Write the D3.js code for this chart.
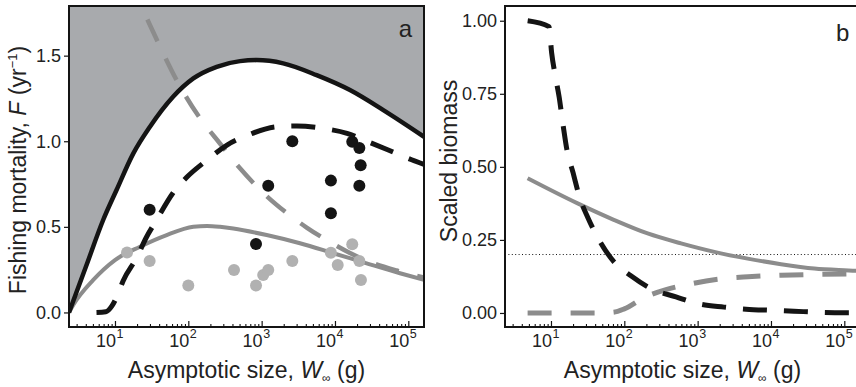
<!DOCTYPE html>
<html>
<head>
<meta charset="utf-8">
<script src="https://cdn.jsdelivr.net/npm/d3@7"></script>
<style>
  html, body { margin: 0; padding: 0; background: #fff; }
  svg { display: block; font-family: "Liberation Sans", Arial, Helvetica, sans-serif; }
</style>
</head>
<body>
<svg id="chart" width="856" height="387"></svg>
<script>
// ---------- Panel a: fishing mortality vs asymptotic size ----------
const boundaryW = [2.36, 4, 6.9, 10.5, 17.8, 30, 62, 117, 244, 507, 855, 1970, 5620, 16000, 45600, 164000];
const boundaryF = [0, 0.265, 0.54, 0.715, 0.929, 1.085, 1.26, 1.367, 1.435, 1.468, 1.474, 1.455, 1.386, 1.299, 1.182, 1.026];

const blackDashW = [5.6, 7.5, 9.1, 11, 12.9, 20, 26.5, 36.2, 61.8, 95.9, 180, 337, 652, 1620, 3030, 6850, 14600, 27300, 53300, 111000, 164000];
const blackDashF = [0, 0.004, 0.038, 0.108, 0.184, 0.324, 0.435, 0.534, 0.698, 0.791, 0.89, 0.978, 1.036, 1.085, 1.089, 1.075, 1.046, 1.0, 0.949, 0.892, 0.865];

const greyDashW = [16, 23.1, 43.4, 69.3, 144, 270, 507, 1170, 2200, 4110, 8110, 16000, 30000, 69300, 164000];
const greyDashF = [1.941, 1.785, 1.532, 1.357, 1.135, 0.987, 0.842, 0.68, 0.581, 0.496, 0.417, 0.347, 0.295, 0.245, 0.204];

const greySolidW = [2.36, 2.7, 5.06, 10, 21.9, 50.7, 117, 180, 270, 411, 1170, 3330, 9480, 27000, 77000, 164000];
const greySolidF = [0, 0.044, 0.19, 0.306, 0.384, 0.452, 0.5, 0.505, 0.5, 0.49, 0.452, 0.404, 0.346, 0.287, 0.229, 0.19];

const blackDotW = [2620, 17200, 21500, 22400, 1230, 8800, 21500, 29.7, 8800, 838];
const blackDotF = [1.0, 0.997, 0.96, 0.86, 0.74, 0.77, 0.74, 0.6, 0.58, 0.4];

const greyDotW = [14.6, 29.7, 100, 420, 838, 1050, 1230, 2620, 8800, 17200, 10900, 21500, 22600];
const greyDotF = [0.35, 0.3, 0.157, 0.248, 0.157, 0.219, 0.248, 0.3, 0.349, 0.398, 0.277, 0.3, 0.19];

const ticksF = [0, 0.5, 1.0, 1.5];

// ---------- Panel b: scaled biomass vs asymptotic size ----------
const bBlackDashW = [4.81, 9.4, 10.2, 11.5, 12.9, 14.6, 16.5, 20, 24.5, 32, 45.2, 72.3, 123, 238, 507, 1040, 2290, 4560, 10600, 20600, 51200, 98900, 169000];
const bBlackDashB = [1.0, 0.98, 0.891, 0.809, 0.74, 0.644, 0.558, 0.48, 0.397, 0.325, 0.25, 0.175, 0.127, 0.082, 0.055, 0.031, 0.02, 0.013, 0.009, 0.006, 0.002, 0.001, 0.001];

const bGreySolidW = [4.8, 23.1, 73.1, 208, 593, 1690, 4810, 13700, 39000, 149000, 169000];
const bGreySolidB = [0.461, 0.375, 0.318, 0.272, 0.238, 0.209, 0.186, 0.167, 0.152, 0.144, 0.143];

const bGreyDashW = [4.8, 45.2, 70, 100, 187, 370, 657, 2080, 4850, 13700, 38500, 169000];
const bGreyDashB = [0, 0, 0.002, 0.014, 0.053, 0.08, 0.095, 0.117, 0.124, 0.129, 0.132, 0.134];

const thresholdB = 0.2;
const ticksB = [0, 0.25, 0.5, 0.75, 1.0];

// ---------- shared axis settings ----------
const sizeDomain = [Math.pow(10, 0.373), Math.pow(10, 5.214)];
const majorExps = [1, 2, 3, 4, 5];

const INK = "#141414";
const GREY_LINE = "#8c8c8c";
const GREY_DOT = "#b1b1b1";
const SHADE = "#a8aaad";

const svg = d3.select("#chart");

function zip(xs, ys) { return xs.map((v, i) => [v, ys[i]]); }

function makePanel(box, yDomain, yTicks, yFormat, name) {
  const x = d3.scaleLog().domain(sizeDomain).range([box.left, box.right]);
  const y = d3.scaleLinear().domain(yDomain).range([box.bottom, box.top]);
  const g = svg.append("g");

  g.append("clipPath").attr("id", "clip-" + name)
    .append("rect")
    .attr("x", box.left).attr("y", box.top)
    .attr("width", box.right - box.left).attr("height", box.bottom - box.top);

  const plot = g.append("g").attr("clip-path", "url(#clip-" + name + ")");

  // y axis (ticks outside)
  const ya = g.append("g").attr("transform", `translate(${box.left},0)`)
    .call(d3.axisLeft(y).tickValues(yTicks).tickSize(5).tickSizeOuter(0).tickPadding(3).tickFormat(yFormat));
  ya.select(".domain").remove();
  ya.selectAll("line").attr("stroke", INK).attr("stroke-width", 1.2);
  ya.selectAll("text").attr("font-size", 18).attr("fill", "#222").attr("font-family", null);

  // x axis: major and minor ticks pointing inward
  const majors = majorExps.map(e => Math.pow(10, e)).filter(v => v >= sizeDomain[0] && v <= sizeDomain[1] * 1.0001);
  const minors = [];
  for (let e = 0; e <= 5; e++) {
    for (let m = 2; m <= 9; m++) {
      const v = m * Math.pow(10, e);
      if (v > sizeDomain[0] && v < sizeDomain[1]) minors.push(v);
    }
  }
  const xMaj = g.append("g").attr("transform", `translate(0,${box.bottom})`)
    .call(d3.axisBottom(x).tickValues(majors).tickSize(-6).tickSizeOuter(0).tickFormat(""));
  xMaj.select(".domain").remove();
  xMaj.selectAll("line").attr("stroke", INK).attr("stroke-width", 1.2);
  const xMin = g.append("g").attr("transform", `translate(0,${box.bottom})`)
    .call(d3.axisBottom(x).tickValues(minors).tickSize(-3).tickSizeOuter(0).tickFormat(""));
  xMin.select(".domain").remove();
  xMin.selectAll("line").attr("stroke", INK).attr("stroke-width", 1.1);

  // power-of-ten labels
  majorExps.forEach(e => {
    const px = x(Math.pow(10, e));
    g.append("text").attr("x", px + 1).attr("y", box.bottom + 20)
      .attr("text-anchor", "end").attr("font-size", 18).attr("fill", "#222").text("10");
    g.append("text").attr("x", px + 1.5).attr("y", box.bottom + 11)
      .attr("text-anchor", "start").attr("font-size", 12.5).attr("fill", "#222").text(String(e));
  });

  // x title
  const xt = g.append("text")
    .attr("x", (box.left + box.right) / 2).attr("y", 378)
    .attr("text-anchor", "middle").attr("font-size", 23).attr("fill", "#222");
  xt.append("tspan").text("Asymptotic size, ");
  xt.append("tspan").attr("font-style", "italic").text("W");
  xt.append("tspan").attr("font-size", 12).attr("dy", 4).text("\u221E");
  xt.append("tspan").attr("dy", -4).text(" (g)");

  return { g, plot, x, y, box };
}

function drawLine(panel, xs, ys, color, width, dash) {
  const line = d3.line().x(d => panel.x(d[0])).y(d => panel.y(d[1])).curve(d3.curveMonotoneX);
  const path = panel.plot.append("path")
    .datum(zip(xs, ys))
    .attr("d", line)
    .attr("fill", "none")
    .attr("stroke", color)
    .attr("stroke-width", width)
    .attr("stroke-linejoin", "round");
  if (dash) path.attr("stroke-dasharray", dash);
  return path;
}

function drawFrame(panel) {
  const b = panel.box;
  panel.g.append("rect")
    .attr("x", b.left).attr("y", b.top)
    .attr("width", b.right - b.left).attr("height", b.bottom - b.top)
    .attr("fill", "none").attr("stroke", INK).attr("stroke-width", 2);
}

// ================= Panel a =================
const pa = makePanel({ left: 69, right: 424, top: 6, bottom: 327 }, [-0.085, 1.79], ticksF, d3.format(".1f"), "a");

// shaded region above the upper bound
pa.plot.append("path")
  .datum(zip(boundaryW, boundaryF))
  .attr("d", d3.area()
    .x(d => pa.x(d[0]))
    .y0(pa.box.top - 5)
    .y1(d => pa.y(d[1]))
    .curve(d3.curveMonotoneX))
  .attr("fill", SHADE);

drawLine(pa, greySolidW, greySolidF, GREY_LINE, 4);
drawLine(pa, greyDashW, greyDashF, GREY_LINE, 4.5, "24,19");
drawLine(pa, boundaryW, boundaryF, INK, 4.5);
drawLine(pa, blackDashW, blackDashF, INK, 5, "24,17");

pa.plot.selectAll("circle.grey").data(zip(greyDotW, greyDotF)).enter()
  .append("circle").attr("class", "grey")
  .attr("cx", d => pa.x(d[0])).attr("cy", d => pa.y(d[1])).attr("r", 6)
  .attr("fill", GREY_DOT);
pa.plot.selectAll("circle.black").data(zip(blackDotW, blackDotF)).enter()
  .append("circle").attr("class", "black")
  .attr("cx", d => pa.x(d[0])).attr("cy", d => pa.y(d[1])).attr("r", 6)
  .attr("fill", INK);

drawFrame(pa);

const ytA = pa.g.append("text")
  .attr("transform", "translate(26,170) rotate(-90)")
  .attr("text-anchor", "middle").attr("font-size", 23).attr("fill", "#222");
ytA.append("tspan").text("Fishing mortality, ");
ytA.append("tspan").attr("font-style", "italic").text("F");
ytA.append("tspan").text(" (yr");
ytA.append("tspan").attr("font-size", 13).attr("dy", -9).text("\u22121");
ytA.append("tspan").attr("dy", 9).text(")");

pa.g.append("text").attr("x", 412).attr("y", 37)
  .attr("text-anchor", "end").attr("font-size", 24).attr("fill", "#222").text("a");

// ================= Panel b =================
const pb = makePanel({ left: 505, right: 860, top: 6, bottom: 327 }, [-0.048, 1.0504], ticksB, d3.format(".2f"), "b");

pb.plot.append("line")
  .attr("x1", pb.box.left).attr("x2", pb.box.right)
  .attr("y1", pb.y(thresholdB)).attr("y2", pb.y(thresholdB))
  .attr("stroke", INK).attr("stroke-width", 1).attr("stroke-dasharray", "1,2.4");

drawLine(pb, bGreySolidW, bGreySolidB, GREY_LINE, 4);
drawLine(pb, bGreyDashW, bGreyDashB, GREY_LINE, 5, "24,19");
drawLine(pb, bBlackDashW, bBlackDashB, INK, 5, "24,17");

drawFrame(pb);

pb.g.append("text")
  .attr("transform", "translate(457,161) rotate(-90)")
  .attr("text-anchor", "middle").attr("font-size", 23).attr("fill", "#222")
  .text("Scaled biomass");

pb.g.append("text").attr("x", 836).attr("y", 41)
  .attr("text-anchor", "start").attr("font-size", 24).attr("fill", "#222").text("b");
</script>
</body>
</html>
